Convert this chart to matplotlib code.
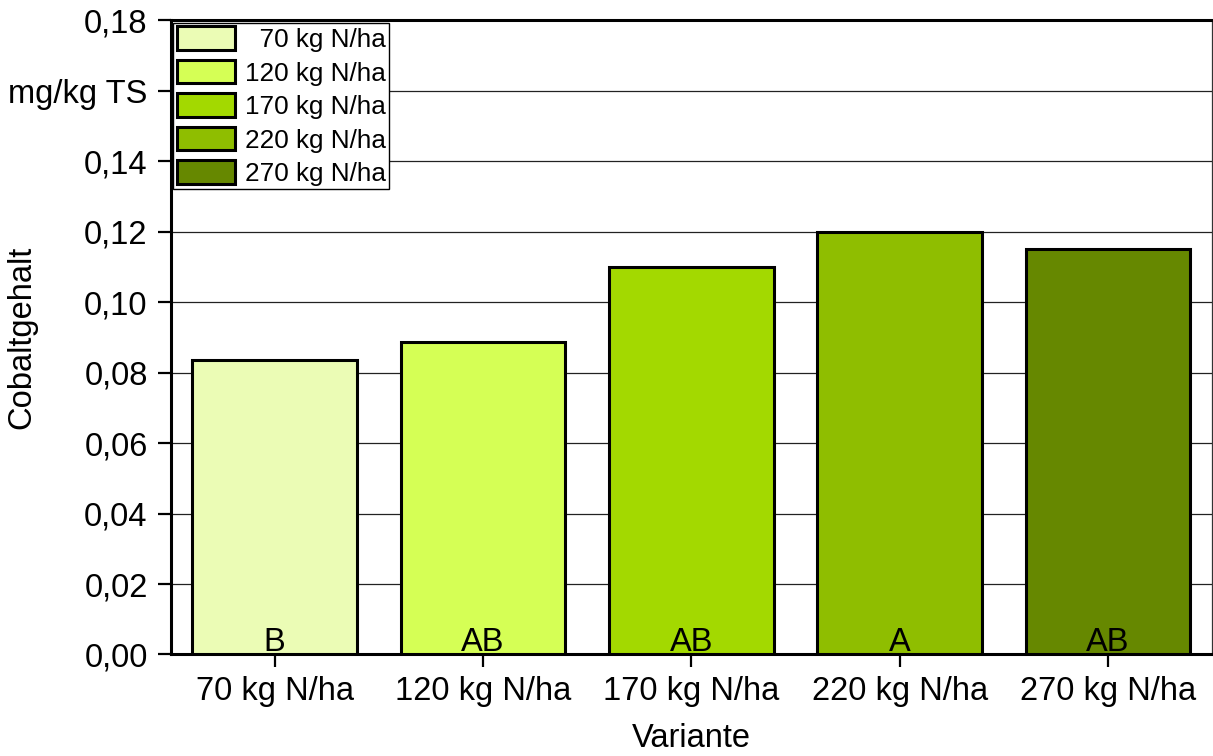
import matplotlib
matplotlib.use("Agg")
import matplotlib.pyplot as plt
from matplotlib.patches import Patch

plt.rcParams['font.family'] = ['Liberation Sans', 'DejaVu Sans']

# Data
varianten = ["70 kg N/ha", "120 kg N/ha", "170 kg N/ha", "220 kg N/ha", "270 kg N/ha"]
cobalt = [0.0835, 0.0888, 0.110, 0.120, 0.1152]
gruppen = ["B", "AB", "AB", "A", "AB"]
farben = ["#EBFCB5", "#D5FF55", "#A3D900", "#8FBE00", "#668800"]
y_ticks = [0.00, 0.02, 0.04, 0.06, 0.08, 0.10, 0.12, 0.14, 0.16, 0.18]
y_ticklabels = ["0,00", "0,02", "0,04", "0,06", "0,08", "0,10", "0,12", "0,14", "mg/kg TS", "0,18"]

FS = 23.5

fig = plt.figure(figsize=(12.13, 7.56), dpi=100)
ax = fig.add_axes([0.1406, 0.1343, 0.8586, 0.8386])

x = list(range(len(varianten)))
ax.bar(x, cobalt, width=0.79, color=farben, edgecolor="black", linewidth=2.2, zorder=3)

for xi, g in zip(x, gruppen):
    ax.annotate(g, (xi, 0), xytext=(0, 2.5), textcoords="offset points",
                ha="center", va="baseline", fontsize=FS, zorder=4)

ax.set_xlim(-0.5, 4.5)
ax.set_ylim(0, 0.18)
ax.set_yticks(y_ticks)
ax.set_yticklabels(y_ticklabels)
ax.set_xticks(x)
ax.set_xticklabels(varianten)
ax.tick_params(axis="both", direction="out", length=9.5, width=1.6, labelsize=FS, color="black")
ax.tick_params(axis="y", pad=7)
ax.tick_params(axis="x", pad=6)

ax.yaxis.grid(True, color="#222222", linewidth=0.9, zorder=0)
ax.set_axisbelow(True)

for side in ("left", "bottom", "top"):
    ax.spines[side].set_linewidth(2.2)
    ax.spines[side].set_color("black")
ax.spines["right"].set_linewidth(0.9)
ax.spines["right"].set_color("#333333")

# Axis titles
fig.text(22 / 1213, 1 - 337.5 / 756, "Cobaltgehalt", rotation=90,
         ha="center", va="center", fontsize=FS)
fig.text(691 / 1213, 1 - 747 / 756, "Variante", ha="center", va="baseline", fontsize=FS)

# Legend with right-aligned labels (two spaces equal one digit width)
legend_labels = ["  70 kg N/ha", "120 kg N/ha", "170 kg N/ha", "220 kg N/ha", "270 kg N/ha"]
handles = [Patch(facecolor=c, edgecolor="black", linewidth=2.2) for c in farben]
leg = ax.legend(handles, legend_labels, loc="upper left", fontsize=18.8,
                handlelength=2.25, handleheight=1.0, labelspacing=0.3,
                handletextpad=0.37, borderpad=0.13, borderaxespad=0.1,
                fancybox=False, framealpha=1, edgecolor="black")
leg.get_frame().set_linewidth(1.0)
leg.set_zorder(5)

fig.savefig("out.png", dpi=100)
